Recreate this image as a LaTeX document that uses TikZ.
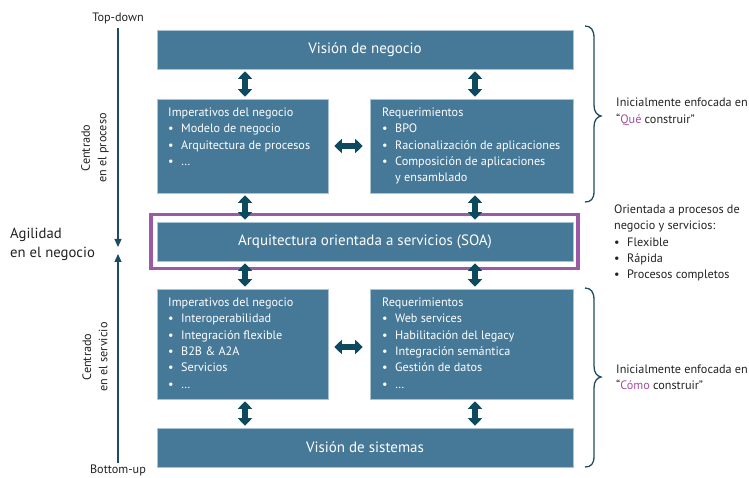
\documentclass[tikz,border=0pt]{standalone}
\usepackage{fontspec}
\setmainfont{PT Sans}
\usetikzlibrary{arrows.meta}
\definecolor{boxblue}{HTML}{467897}
\definecolor{boxedge}{HTML}{A9C3D3}
\definecolor{arrowc}{HTML}{0D4A5F}
\definecolor{axisc}{HTML}{1D4B5F}
\definecolor{frameviolet}{HTML}{9C5AA6}
\definecolor{qc}{HTML}{A24F9F}
\definecolor{txt}{HTML}{222222}
\newcommand{\itm}[1]{\makebox[13pt][l]{\textbullet}#1}
\newcommand{\cont}[1]{\hspace*{13pt}#1}
\begin{document}
\begin{tikzpicture}[x=1pt,y=-1pt,
  box/.style={fill=boxblue,draw=boxedge,line width=0.6pt,inner sep=0pt,text=white},
  titlebox/.style={box,font=\fontsize{15}{18}\selectfont},
  bodytxt/.style={anchor=north west,align=left,inner sep=0pt,text=white,font=\fontsize{12.2}{16.4}\selectfont},
  dbl/.style={arrowc,line width=5.5pt,{Triangle[width=14pt,length=7.5pt]}-{Triangle[width=14pt,length=7.5pt]},shorten <=2pt,shorten >=2pt},
  outtxt/.style={text=txt,font=\fontsize{12.2}{16.4}\selectfont,inner sep=0pt},
  bracec/.style={draw=axisc,line width=1.3pt}]
\useasboundingbox (0,0) rectangle (749,478);

% boxes
\node[titlebox,minimum width=416pt,minimum height=39pt] (vn) at (365,49.5) {Visión de negocio};
\node[box,minimum width=171pt,minimum height=94pt] (imp1) at (242.5,146) {};
\node[box,minimum width=203pt,minimum height=94pt] (req1) at (471.5,146) {};
\node[draw=frameviolet,line width=3.6pt,minimum width=427pt,minimum height=54pt,inner sep=0pt] (frame) at (364.5,241.5) {};
\node[titlebox,minimum width=416pt,minimum height=39pt] (soa) at (365,241.5) {Arquitectura orientada a servicios (SOA)};
\node[box,minimum width=171pt,minimum height=110pt] (imp2) at (242.5,344) {};
\node[box,minimum width=203pt,minimum height=110pt] (req2) at (471.5,344) {};
\node[titlebox,minimum width=416pt,minimum height=39pt] (vs) at (365,447.5) {Visión de sistemas};

% box texts
\node[bodytxt] (t1) at (168,107.5) {Imperativos del negocio\\\itm{Modelo de negocio}\\\itm{Arquitectura de procesos}\\\itm{…}};
\node[bodytxt] (t2) at (382,107.5) {Requerimientos\\\itm{BPO}\\\itm{Racionalización de aplicaciones}\\\itm{Composición de aplicaciones}\\\cont{y ensamblado}};
\node[bodytxt] (t3) at (168,297.5) {Imperativos del negocio\\\itm{Interoperabilidad}\\\itm{Integración flexible}\\\itm{B2B \& A2A}\\\itm{Servicios}\\\itm{…}};
\node[bodytxt] (t4) at (382,297.5) {Requerimientos\\\itm{Web services}\\\itm{Habilitación del legacy}\\\itm{Integración semántica}\\\itm{Gestión de datos}\\\itm{…}};

% arrow positions
\coordinate (xl) at (245,0);
\coordinate (xr) at (475,0);
\coordinate (ya) at (0,146);
\coordinate (yb) at (0,347);
\draw[dbl] (vn.south -| xl) -- (imp1.north -| xl);
\draw[dbl] (vn.south -| xr) -- (req1.north -| xr);
\draw[dbl] (imp1.south -| xl) -- (soa.north -| xl);
\draw[dbl] (req1.south -| xr) -- (soa.north -| xr);
\draw[dbl] (soa.south -| xl) -- (imp2.north -| xl);
\draw[dbl] (soa.south -| xr) -- (req2.north -| xr);
\draw[dbl] (imp2.south -| xl) -- (vs.north -| xl);
\draw[dbl] (req2.south -| xr) -- (vs.north -| xr);
\draw[dbl,shorten <=6pt,shorten >=7pt] (imp1.east |- ya) -- (req1.west |- ya);
\draw[dbl,shorten <=6pt,shorten >=7pt] (imp2.east |- yb) -- (req2.west |- yb);

% left axis
\node[outtxt] (td) at (118,18) {Top-down};
\node[outtxt] (bu) at (118,470.5) {Bottom-up};
\coordinate (a1) at (118,247);
\coordinate (a2) at (118,254);
\draw[axisc,line width=1.2pt,-{Triangle[width=7pt,length=8pt]}] (td.south) ++(0,4) -- (a1);
\draw[axisc,line width=1.2pt,-{Triangle[width=7pt,length=8pt]}] (bu.north) ++(0,-2) -- (a2);
\node[outtxt,anchor=west,align=left,font=\fontsize{14.7}{19}\selectfont] (ag) at (10,244.5) {Agilidad\\en el negocio};
\node[outtxt,rotate=90,align=center] (cp) at (95,148) {Centrado\\en el proceso};
\node[outtxt,rotate=90,align=center] (cs) at (95,357) {Centrado\\en el servicio};

% braces
\draw[bracec] (585,26) .. controls (591,26) and (594,30) .. (594,38) -- (594,105) .. controls (594,112) and (597,115) .. (601,116) .. controls (597,117) and (594,120) .. (594,127) -- (594,191) .. controls (594,199) and (591,202) .. (585,202);
\draw[bracec] (585,288) .. controls (591,288) and (594,292) .. (594,300) -- (594,366) .. controls (594,373) and (597,376) .. (601,377) .. controls (597,378) and (594,381) .. (594,388) -- (594,456) .. controls (594,464) and (591,467) .. (585,467);

% right texts
\node[outtxt,anchor=west,align=left] (r1) at (616,112) {Inicialmente enfocada en\\“\textcolor{qc}{Qué} construir”};
\node[outtxt,anchor=west,align=left] (r2) at (614,243) {Orientada a procesos de\\negocio y servicios:\\\itm{Flexible}\\\itm{Rápida}\\\itm{Procesos completos}};
\node[outtxt,anchor=west,align=left] (r3) at (616,377) {Inicialmente enfocada en\\“\textcolor{qc}{Cómo} construir”};
\end{tikzpicture}
\end{document}
